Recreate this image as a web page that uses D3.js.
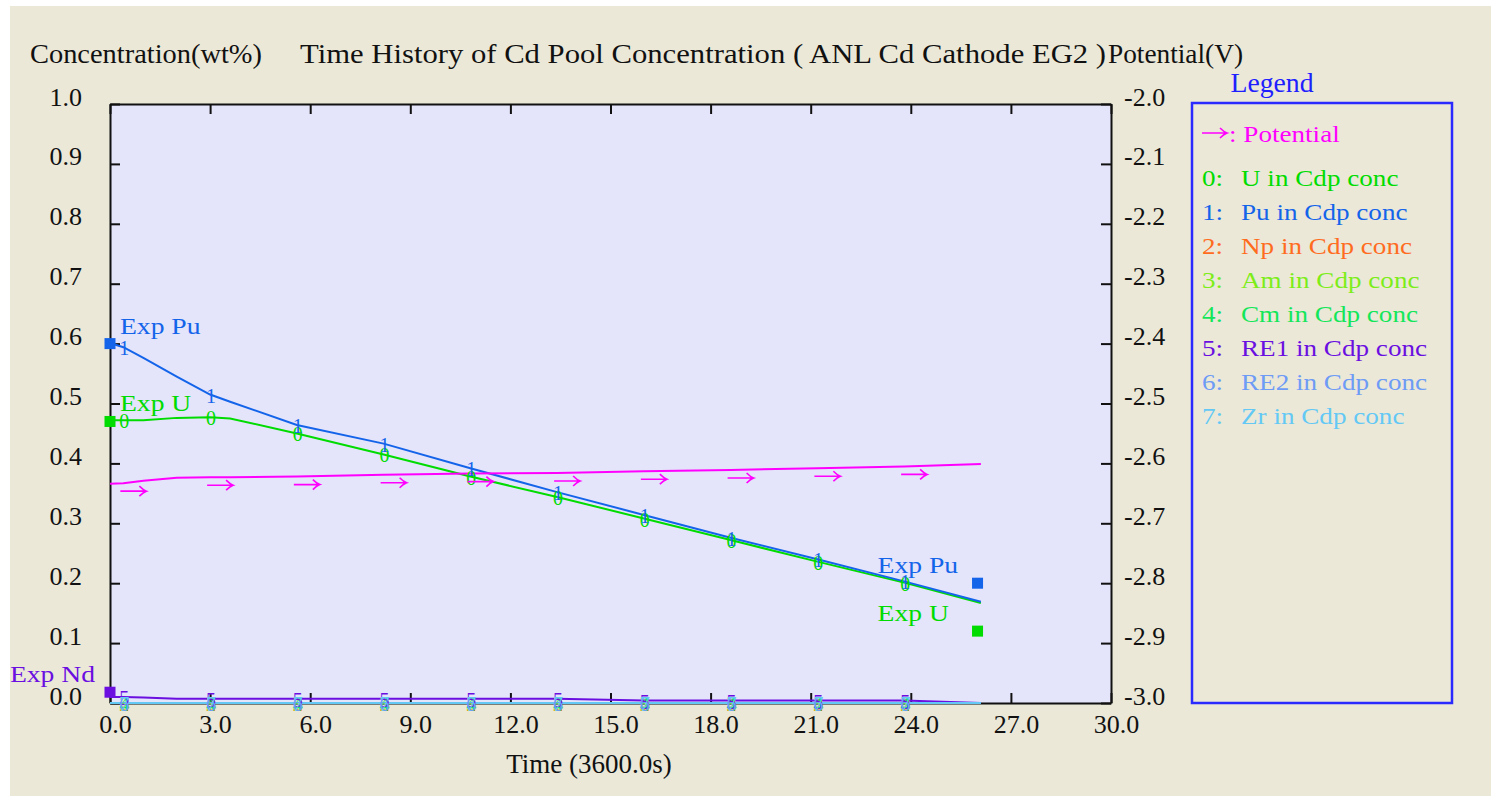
<!DOCTYPE html>
<html>
<head>
<meta charset="utf-8">
<script src="https://cdn.jsdelivr.net/npm/d3@7"></script>
<style>
  html, body { margin: 0; padding: 0; background: #ffffff; }
  svg { display: block; }
  text { font-family: "Liberation Serif", "Times New Roman", serif; }
</style>
</head>
<body>
<svg id="chart" width="1491" height="796"></svg>
<script>
// Time grid in hours (unit 3600.0 s)
const timeH = [0, 0.4, 1.0, 2.0, 3.0, 3.6, 5.6, 8.2, 10.8, 13.4, 16.0, 18.6, 21.2, 23.8, 26.1];
// Times at which the series number glyphs / potential arrows are placed
const markerTimes = [0.4, 3.0, 5.6, 8.2, 10.8, 13.4, 16.0, 18.6, 21.2, 23.8];

// Cd pool concentrations (wt%)
const concU   = [0.472, 0.472, 0.472, 0.476, 0.477, 0.475, 0.450, 0.415, 0.378, 0.344, 0.308, 0.272, 0.236, 0.201, 0.167];
const concPu  = [0.601, 0.594, 0.576, 0.545, 0.515, 0.503, 0.464, 0.433, 0.392, 0.352, 0.314, 0.276, 0.240, 0.203, 0.169];
const concNp  = [0, 0, 0, 0, 0, 0, 0, 0, 0, 0, 0, 0, 0, 0, 0];
const concAm  = [0, 0, 0, 0, 0, 0, 0, 0, 0, 0, 0, 0, 0, 0, 0];
const concCm  = [0, 0, 0, 0, 0, 0, 0, 0, 0, 0, 0, 0, 0, 0, 0];
const concRE1 = [0.010, 0.010, 0.009, 0.007, 0.007, 0.007, 0.007, 0.007, 0.007, 0.007, 0.004, 0.004, 0.004, 0.004, 0.000];
const concRE2 = [0, 0, 0, 0, 0, 0, 0, 0, 0, 0, 0, 0, 0, 0, 0];
const concZr  = [0, 0, 0, 0, 0, 0, 0, 0, 0, 0, 0, 0, 0, 0, 0];

// Cell potential (V), right axis
const potentialV = [-2.634, -2.633, -2.629, -2.624, -2.623, -2.623, -2.622, -2.619, -2.617, -2.616, -2.613, -2.611, -2.608, -2.605, -2.601];

// Series names and colours (legend order 0..7)
const seriesNames  = ["U", "Pu", "Np", "Am", "Cm", "RE1", "RE2", "Zr"];
const seriesColors = ["#00dc00", "#1464ea", "#ff6c1e", "#7ded1a", "#14e65a", "#6a0fe0", "#6e9bf5", "#64c8f5"];
const seriesValues = [concU, concPu, concNp, concAm, concCm, concRE1, concRE2, concZr];
const potentialColor = "#ff00ff";

// Experimental reference points
const expLabels   = ["Exp Pu", "Exp U", "Exp Nd", "Exp Pu", "Exp U"];
const expSeries   = [1, 0, 5, 1, 0];
const expTimeH    = [0, 0, 0, 26.0, 26.0];
const expConc     = [0.600, 0.470, 0.018, 0.200, 0.120];

// Axis ticks
const xTicks  = [0, 3, 6, 9, 12, 15, 18, 21, 24, 27, 30];
const yTicks  = [0, 0.1, 0.2, 0.3, 0.4, 0.5, 0.6, 0.7, 0.8, 0.9, 1.0];
const yRTicks = [-3.0, -2.9, -2.8, -2.7, -2.6, -2.5, -2.4, -2.3, -2.2, -2.1, -2.0];

// Text strings
const leftTitle   = "Concentration(wt%)";
const mainTitle   = "Time History of Cd Pool Concentration ( ANL Cd Cathode EG2 )";
const rightTitle  = "Potential(V)";
const xTitle      = "Time (3600.0s)";
const legendTitle = "Legend";

// ---------------------------------------------------------------------------
const svg = d3.select("#chart");
const W = 1491, H = 796;
const plot = { left: 110, top: 104, right: 1111, bottom: 703 };

const x  = d3.scaleLinear().domain([0, 30]).range([plot.left, plot.right]);
const y  = d3.scaleLinear().domain([0, 1]).range([plot.bottom, plot.top]);
const yR = d3.scaleLinear().domain([-3, -2]).range([plot.bottom, plot.top]);

function stretch(sel, k) {
  sel.each(function () {
    const w = this.getComputedTextLength();
    d3.select(this).attr("textLength", w * k).attr("lengthAdjust", "spacingAndGlyphs");
  });
}
function fit(sel, w) {
  sel.attr("textLength", w).attr("lengthAdjust", "spacingAndGlyphs");
}
// right-pointing arrow glyph drawn as a path, left end at (x0, y0)
function arrow(g, x0, y0, len, color) {
  g.append("path")
    .attr("d", `M${x0},${y0}H${x0 + len}M${x0 + len - 7},${y0 - 5}Q${x0 + len - 3},${y0 - 1} ${x0 + len},${y0}Q${x0 + len - 3},${y0 + 1} ${x0 + len - 7},${y0 + 5}`)
    .attr("fill", "none").attr("stroke", color).attr("stroke-width", 1.6);
}

// window background
svg.append("rect").attr("x", 10).attr("y", 6).attr("width", W - 10).attr("height", H - 6).attr("fill", "#ebe8d8");

// plot background
svg.append("rect")
  .attr("x", plot.left).attr("y", plot.top)
  .attr("width", plot.right - plot.left).attr("height", plot.bottom - plot.top)
  .attr("fill", "#e4e4fb");

// titles
fit(svg.append("text").attr("x", 30).attr("y", 63).attr("font-size", 27).attr("fill", "#111").text(leftTitle), 232);
fit(svg.append("text").attr("x", 300).attr("y", 63).attr("font-size", 27).attr("fill", "#111").text(mainTitle), 806);
fit(svg.append("text").attr("x", 1108).attr("y", 63).attr("font-size", 27).attr("fill", "#111").text(rightTitle), 135);

// axes (frame with inward ticks on all four sides)
const fmt = d => d.toFixed(1);
function styleAxis(g) {
  g.selectAll("path.domain").attr("stroke", "#111").attr("stroke-width", 2);
  g.selectAll(".tick line").attr("stroke", "#111").attr("stroke-width", 2);
  g.selectAll("text").attr("font-family", "Liberation Serif, serif").attr("font-size", 26).attr("fill", "#111");
}
const gLeft = svg.append("g").attr("transform", `translate(${plot.left},0)`)
  .call(d3.axisLeft(y).tickValues(yTicks).tickSize(-10).tickSizeOuter(0).tickFormat(fmt));
styleAxis(gLeft);
gLeft.selectAll("text").attr("x", -28).attr("dy", null).attr("y", 1).attr("text-anchor", "end");

const gRight = svg.append("g").attr("transform", `translate(${plot.right},0)`)
  .call(d3.axisRight(yR).tickValues(yRTicks).tickSize(-10).tickSizeOuter(0).tickFormat(fmt));
styleAxis(gRight);
gRight.selectAll("text").attr("x", 13).attr("dy", null).attr("y", 1).attr("text-anchor", "start");

const gTop = svg.append("g").attr("transform", `translate(0,${plot.top})`)
  .call(d3.axisTop(x).tickValues(xTicks).tickSize(-10).tickSizeOuter(0).tickFormat(""));
styleAxis(gTop);

const gBottom = svg.append("g").attr("transform", `translate(0,${plot.bottom})`)
  .call(d3.axisBottom(x).tickValues(xTicks).tickSize(-10).tickSizeOuter(0).tickFormat(fmt));
styleAxis(gBottom);
gBottom.selectAll("text").attr("y", 30).attr("dy", null).attr("x", 5);

// x axis title
svg.append("text").attr("x", 589).attr("y", 773).attr("text-anchor", "middle")
  .attr("font-size", 27).attr("fill", "#111").text(xTitle);

// concentration lines
const line = d3.line().x((d, i) => x(timeH[i])).y(d => y(d));
const gLines = svg.append("g");
seriesValues.forEach((vals, s) => {
  gLines.append("path").datum(vals)
    .attr("d", line)
    .attr("fill", "none")
    .attr("stroke", seriesColors[s])
    .attr("stroke-width", 2);
});

// potential line (right axis)
const lineR = d3.line().x((d, i) => x(timeH[i])).y(d => yR(d));
svg.append("path").datum(potentialV)
  .attr("d", lineR).attr("fill", "none")
  .attr("stroke", potentialColor).attr("stroke-width", 2);

// series number glyphs on the lines
const gMarks = svg.append("g");
seriesValues.forEach((vals, s) => {
  timeH.forEach((t, i) => {
    if (!markerTimes.includes(t)) return;
    gMarks.append("text")
      .attr("x", x(t) + 1).attr("y", y(vals[i]) + 1)
      .attr("text-anchor", "middle").attr("dominant-baseline", "central")
      .attr("font-size", 20).attr("fill", seriesColors[s])
      .text(String(s));
  });
});

// potential arrows
timeH.forEach((t, i) => {
  if (!markerTimes.includes(t)) return;
  arrow(gMarks, x(t) - 3, yR(potentialV[i]) + 8, 26, potentialColor);
});

// experimental points and labels
const gExp = svg.append("g");
expConc.forEach((c, i) => {
  const cx = x(expTimeH[i]), cy = y(c);
  const col = seriesColors[expSeries[i]];
  gExp.append("rect").attr("x", cx - 5.5).attr("y", cy - 5.5).attr("width", 11).attr("height", 11).attr("fill", col);
  let tx, anchor;
  if (expTimeH[i] === 0) {
    if (c >= 0.05) { tx = cx + 10; anchor = "start"; }
    else { tx = cx - 15; anchor = "end"; }
  } else { tx = cx - 100; anchor = "start"; }
  stretch(gExp.append("text")
    .attr("x", tx).attr("y", cy - 10).attr("text-anchor", anchor)
    .attr("font-size", 24).attr("fill", col)
    .text(expLabels[i]), 1.15);
});

// legend
const leg = { left: 1192, top: 103, right: 1452, bottom: 703 };
svg.append("rect")
  .attr("x", leg.left).attr("y", leg.top)
  .attr("width", leg.right - leg.left).attr("height", leg.bottom - leg.top)
  .attr("fill", "none").attr("stroke", "#2a2aff").attr("stroke-width", 2.5);
fit(svg.append("text").attr("x", 1272).attr("y", 92).attr("text-anchor", "middle")
  .attr("font-size", 27).attr("fill", "#2020ff").text(legendTitle), 83);

const gLeg = svg.append("g");
arrow(gLeg, 1202, 133, 25, potentialColor);
stretch(gLeg.append("text").attr("x", 1229).attr("y", 142)
  .attr("font-size", 24).attr("fill", potentialColor).text(": Potential"), 1.13);

seriesNames.forEach((name, s) => {
  const by = 186 + s * 34;
  stretch(gLeg.append("text").attr("x", 1202).attr("y", by)
    .attr("font-size", 24).attr("fill", seriesColors[s]).text(s + ":"), 1.13);
  stretch(gLeg.append("text").attr("x", 1241).attr("y", by)
    .attr("font-size", 24).attr("fill", seriesColors[s]).text(name + " in Cdp conc"), 1.13);
});
</script>
</body>
</html>
